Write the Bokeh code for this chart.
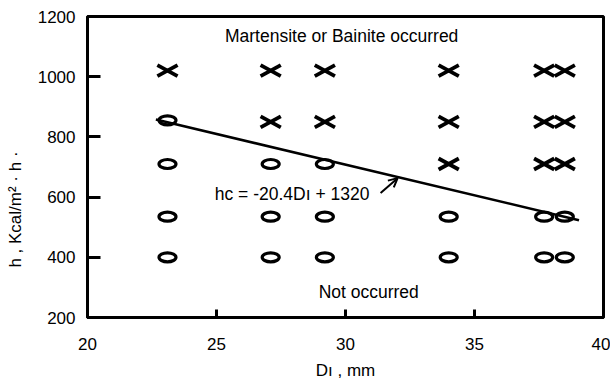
from bokeh.plotting import figure
from bokeh.models import Label, Arrow, OpenHead, FixedTicker, ColumnDataSource
from bokeh.embed import file_html
from bokeh.resources import INLINE

FONT = "Liberation Sans"

# Test results: ideal critical diameter D_I (mm) vs heat transfer coefficient h
cross_d = [23.1, 27.1, 29.2, 34.0, 37.7, 38.5,
           27.1, 29.2, 34.0, 37.7, 38.5,
           34.0, 37.7, 38.5]
cross_h = [1020, 1020, 1020, 1020, 1020, 1020,
           850, 850, 850, 850, 850,
           710, 710, 710]

circle_d = [23.1,
            23.1, 27.1, 29.2,
            23.1, 27.1, 29.2, 34.0, 37.7, 38.5,
            23.1, 27.1, 29.2, 34.0, 37.7, 38.5]
circle_h = [855,
            710, 710, 710,
            535, 535, 535, 535, 535, 535,
            400, 400, 400, 400, 400, 400]

# Critical line hc = -20.4 D_I + 1320
slope = -20.4
intercept = 1320
line_d = [22.65, 39.05]
line_h = [slope * d + intercept for d in line_d]

x_ticks = [20, 25, 30, 35, 40]
y_ticks = [200, 400, 600, 800, 1000, 1200]

p = figure(width=610, height=382, x_range=(20, 40), y_range=(200, 1200),
           output_backend="svg", toolbar_location=None,
           min_border_left=87, min_border_right=7,
           min_border_top=16, min_border_bottom=64)

p.background_fill_color = "white"
p.border_fill_color = "white"
p.xgrid.visible = False
p.ygrid.visible = False
p.outline_line_color = "black"
p.outline_line_width = 3

for ax in (p.xaxis[0], p.yaxis[0]):
    ax.axis_line_width = 3
    ax.major_tick_line_width = 3
    ax.minor_tick_line_color = None
    ax.major_tick_out = 0
    ax.major_label_text_font = FONT
    ax.major_label_text_font_size = "17px"
    ax.major_label_text_color = "black"
    ax.axis_label_text_font = FONT
    ax.axis_label_text_font_size = "17px"
    ax.axis_label_text_font_style = "normal"
    ax.axis_label_text_color = "black"

p.xaxis.ticker = FixedTicker(ticks=x_ticks)
p.yaxis.ticker = FixedTicker(ticks=y_ticks)
p.xaxis.major_tick_in = 8
p.yaxis.major_tick_in = 13
p.xaxis.major_label_standoff = 20
p.yaxis.major_label_standoff = 12

# axis titles (y title sits a little below the axis centre)
p.xaxis.axis_label = "D\u0131 , mm"
p.xaxis.axis_label_standoff = 8
p.yaxis.axis_label = "h , Kcal/m\u00b2 \u00b7 h \u00b7" + "\u00a0" * 18
p.yaxis.axis_label_standoff = 10

# critical line
p.line(line_d, line_h, line_color="black", line_width=2.6)

# not occurred: open ellipses
csrc = ColumnDataSource(dict(d=circle_d, h=circle_h))
p.ellipse("d", "h", width=17, height=9, width_units="screen",
          height_units="screen", source=csrc, fill_color=None,
          line_color="black", line_width=3.2)

# occurred: flattened crosses
xsrc = ColumnDataSource(dict(d=cross_d, h=cross_h))
for ang in (0.5, -0.5):
    p.scatter("d", "h", marker="dash", size=23, angle=ang, source=xsrc,
              line_color="black", line_width=3.8)

def add_text(x, y, text, size="17.5px"):
    p.add_layout(Label(x=x, y=y, text=text,
                       text_font=FONT, text_font_size=size,
                       text_color="black", text_align="center",
                       text_baseline="middle"))

add_text(29.85, 1135, "Martensite or Bainite occurred")
add_text(30.9, 286, "Not occurred")
add_text(27.93, 611, "hc = -20.4D\u0131 + 1320")

p.add_layout(Arrow(x_start=31.36, y_start=614, x_end=32.02, y_end=663,
                   line_color="black", line_width=2,
                   end=OpenHead(size=9, line_width=2, line_color="black")))

open("out.html", "w").write(file_html(p, INLINE))
